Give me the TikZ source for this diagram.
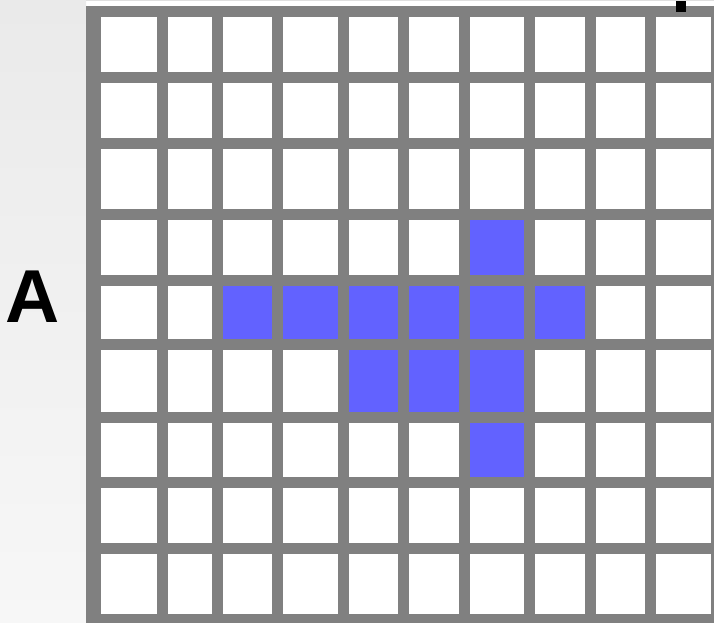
\documentclass[tikz,border=0pt]{standalone}
\usepackage{fontspec}
\setmainfont{Liberation Sans}
\definecolor{gridgray}{HTML}{808080}
\definecolor{hitblue}{HTML}{6262FF}
\definecolor{sidetop}{HTML}{EAEAEA}
\definecolor{sidebottom}{HTML}{F7F7F7}
\tikzset{
  emptycell/.style={fill=white},
  hitcell/.style={fill=hitblue}
}
\begin{document}
\begin{tikzpicture}[x=1pt, y=-1pt]

\useasboundingbox (0,0) rectangle (714,623);
\fill [white] (0,0) rectangle (714,623);
\shade [top color=sidetop, bottom color=sidebottom] (0,0) rectangle (86,623);
\fill [gray!25] (86,0) rectangle (714,1);

% grid lines
\fill [gridgray] (86,6) rectangle (714,623);

\foreach \xa/\xb in {101/157,168/212,223/272,283/338,349/398,409/459,470/524,535/585,596/645,656/711}
  \foreach \ya/\yb in {17/72,83/138,149/209,220/275,286/339,350/412,423/477,488/543,554/614}
    \fill [emptycell] (\xa,\ya) rectangle (\xb,\yb);

% the blue pattern
\foreach \xa/\xb/\ya/\yb in {470/524/220/275,
    223/272/286/339, 283/338/286/339, 349/398/286/339, 409/459/286/339, 470/524/286/339, 535/585/286/339,
    349/398/350/412, 409/459/350/412, 470/524/350/412,
    470/524/423/477}
  \fill [hitcell] (\xa,\ya) rectangle (\xb,\yb);

\fill [black] (676,1) rectangle (686,12);

\node (labelA) [anchor=base, inner sep=0pt, font=\fontsize{75}{75}\selectfont\bfseries] at (32.5,322) {A};

\end{tikzpicture}
\end{document}
